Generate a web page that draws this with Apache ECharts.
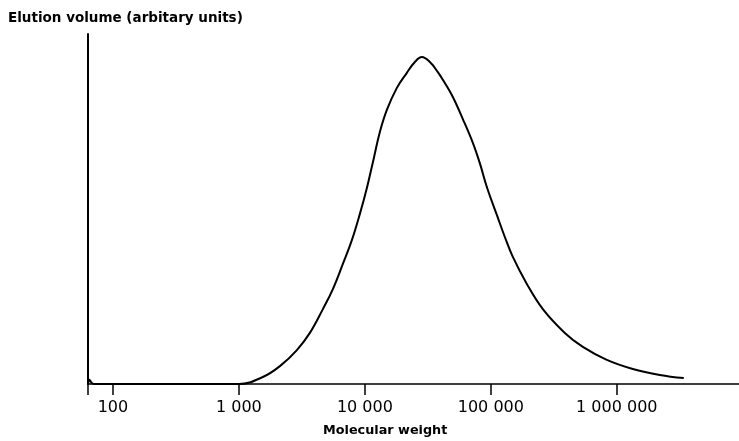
<!DOCTYPE html>
<html>
<head>
<meta charset="utf-8">
<script src="https://cdn.jsdelivr.net/npm/echarts@6/dist/echarts.min.js"></script>
<style>
  html, body { margin: 0; padding: 0; background: #fff; }
  #chart { width: 739px; height: 441px; }
</style>
</head>
<body>
<div id="chart"></div>
<script>
// molecular weight (x, log scale) and elution volume (arbitrary units, 0-100)
const molWeight = [63.5, 65, 68, 72, 1000, 1550, 2116, 2886, 3660, 4642, 5572, 6689, 7884, 9128,
  10373, 11787, 13152, 14948, 17947, 21544, 24943, 28339, 32810, 37965, 43140, 49940,
  59950, 71970, 81750, 92960, 111600, 129150, 149500, 193100, 258700, 386700, 537400,
  833000, 1340000, 2194000, 3402000];
const elution = [0, 1.2, 0.3, 0, 0, 2.0, 5.1, 9.7, 14.6, 21.4, 27.1, 34.3, 41.1, 48.6,
  56.0, 64.6, 72.0, 78.3, 84.6, 88.9, 92.0, 93.4, 92.0, 89.1, 86.0, 82.0,
  75.7, 68.9, 63.1, 56.3, 48.3, 42.0, 36.3, 28.6, 21.4, 14.6, 10.6,
  6.9, 4.3, 2.6, 1.7];

const tickValues = [100, 1000, 10000, 100000, 1000000];
const tickLabels = ['100', '1 000', '10 000', '100 000', '1 000 000'];

const yTitle = 'Elution volume (arbitary units)';
const xTitle = 'Molecular weight';

const font = 'DejaVu Sans';

function tickLabel(value) {
  const i = tickValues.indexOf(Math.round(value));
  return i >= 0 ? tickLabels[i] : '';
}

const chart = echarts.init(document.getElementById('chart'));
chart.setOption({
  animation: false,
  backgroundColor: '#fff',
  // grid runs past the right edge so the 10^7 and end ticks fall off canvas
  grid: { left: 88, width: 660, top: 34, bottom: 57, outerBoundsMode: 'none' },
  graphic: [
    {
      type: 'text', left: 8, top: 11,
      style: { text: yTitle, font: 'bold 13.5px "DejaVu Sans"', fill: '#000' }
    },
    {
      type: 'text', left: 323, top: 424,
      style: { text: xTitle, font: 'bold 12.8px "DejaVu Sans"', fill: '#000' }
    }
  ],
  xAxis: {
    type: 'log',
    logBase: 10,
    min: 63.4,
    max: 1.1e7,
    splitNumber: 5,
    axisLine: { lineStyle: { color: '#000', width: 1.5 } },
    axisTick: {
      show: true,
      length: 11,
      lineStyle: { color: '#000', width: 1.5 }
    },
    axisLabel: {
      customValues: tickValues,
      formatter: tickLabel,
      margin: 16,
      color: '#000',
      fontFamily: font,
      fontSize: 16
    },
    splitLine: { show: false },
    minorTick: { show: false }
  },
  yAxis: {
    type: 'value',
    min: 0,
    max: 100,
    axisLine: { show: true, lineStyle: { color: '#000', width: 2 } },
    axisTick: { show: false },
    axisLabel: { show: false },
    splitLine: { show: false }
  },
  series: [{
    type: 'line',
    data: molWeight.map((m, i) => [m, elution[i]]),
    smooth: 0.4,
    showSymbol: false,
    clip: false,
    lineStyle: { color: '#000', width: 2 }
  }]
});
</script>
</body>
</html>
